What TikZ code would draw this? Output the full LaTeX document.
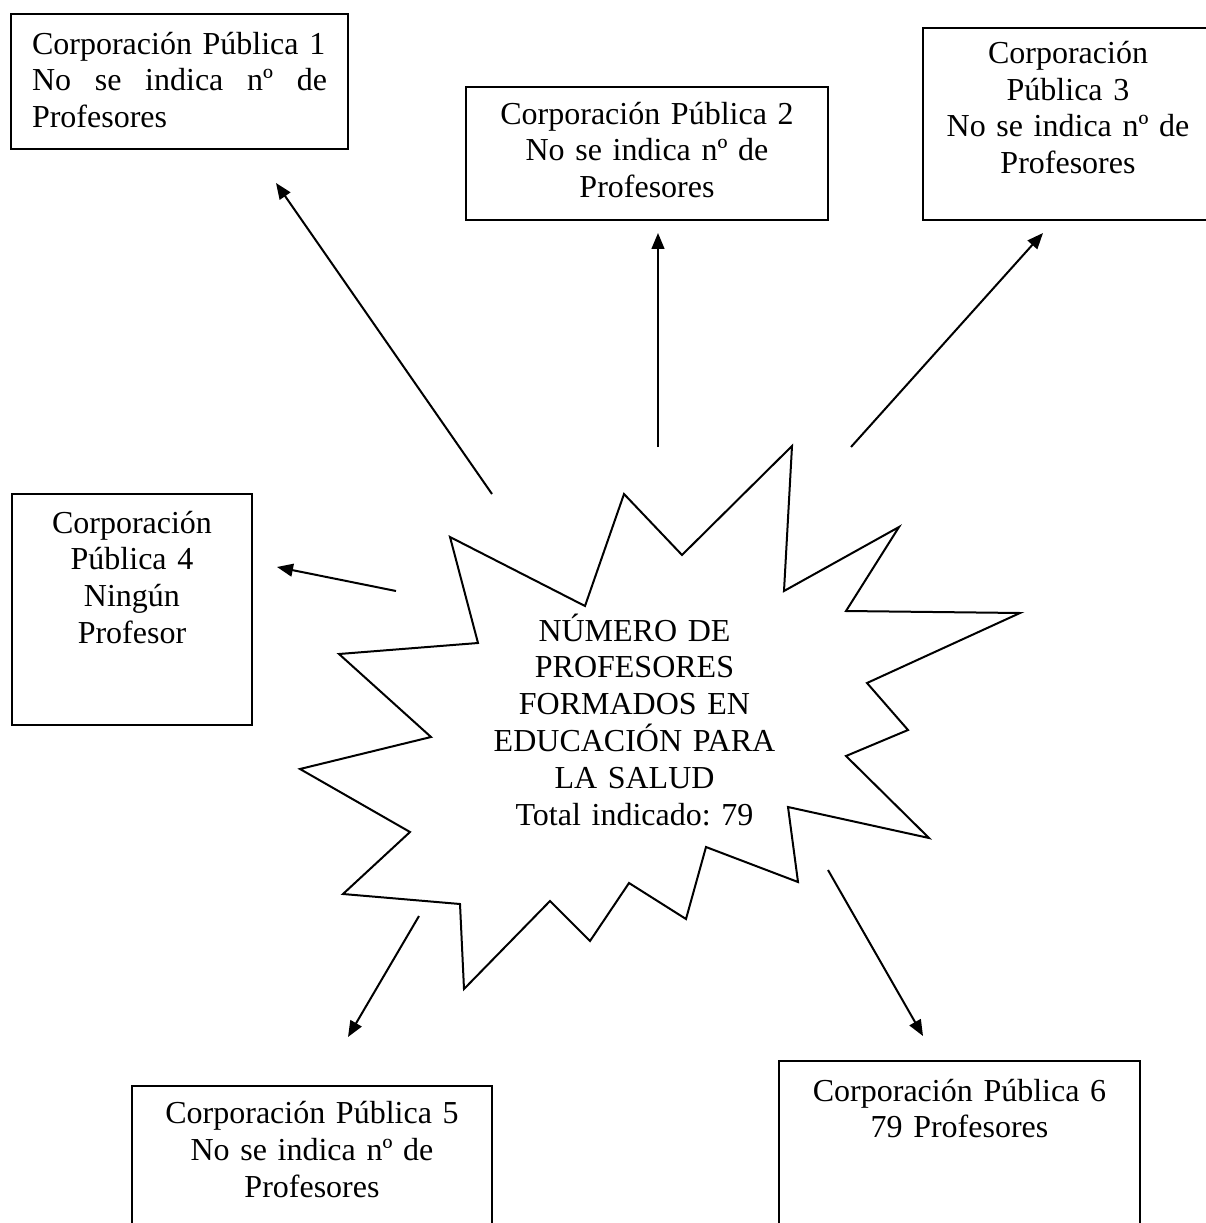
\documentclass[tikz,border=0pt]{standalone}
\usepackage{fontspec}
\setmainfont{Liberation Serif}
\usetikzlibrary{arrows.meta,fit}
\frenchspacing

\tikzset{
  corpframe/.style={draw,line width=0.75pt,inner sep=0pt},
  corptext/.style={anchor=base,align=center,text width=#1,inner sep=0pt},
  corptext/.default=125pt,
  flecha/.style={line width=0.75pt,-{Triangle[length=6pt,width=4.8pt]}},
}

\begin{document}
\begin{tikzpicture}[x=0.375pt,y=-0.375pt,font=\fontsize{12pt}{13.8pt}\selectfont]
  \useasboundingbox (0,0) rectangle (1205,1223);

  % starburst in the middle
  \draw[line width=0.75pt]
    (450,537) -- (585,606) -- (624,494) -- (682,555) -- (792,446) -- (784,591)
    -- (899,527) -- (846,611) -- (1020,613) -- (867,683) -- (908,730) -- (846,756)
    -- (929,838) -- (788,807) -- (798,882) -- (706,847) -- (686,919) -- (629,883)
    -- (590,941) -- (550,901) -- (464,989) -- (460,904) -- (343,894) -- (410,832)
    -- (300,769) -- (431,737) -- (339,654) -- (478,643) -- cycle;
  \node[corptext=112pt] (total) at (634.5,641) {NÚMERO DE\\PROFESORES\\FORMADOS EN\\EDUCACIÓN PARA\\LA SALUD\\Total indicado: 79};

  % frames
  \node[corpframe,fit={(11,14) (348,149)}] (cp1) {};
  \node[corpframe,fit={(466,87) (828,220)}] (cp2) {};
  \node[corpframe,fit={(923,28) (1213,220)}] (cp3) {};
  \node[corpframe,fit={(12,494) (252,725)}] (cp4) {};
  \node[corpframe,fit={(132,1086) (492,1245)}] (cp5) {};
  \node[corpframe,fit={(779,1061) (1140,1245)}] (cp6) {};

  % texts in the frames
  \node[corptext=110.6pt,align=left] (cp1txt) at ([yshift=-15.4pt]cp1.north)
    {Corporación Pública 1\\No\hfill se\hfill indica\hfill nº\hfill de\\Profesores};
  \node[corptext] (cp2txt) at ([yshift=-14.3pt]cp2.north) {Corporación Pública 2\\No se indica nº de\\Profesores};
  \node[corptext] (cp3txt) at ([yshift=-13.6pt]cp3.north) {Corporación\\Pública 3\\No se indica nº de\\Profesores};
  \node[corptext] (cp4txt) at ([yshift=-15pt]cp4.north) {Corporación\\Pública 4\\Ningún\\Profesor};
  \node[corptext] (cp5txt) at ([yshift=-14.6pt]cp5.north) {Corporación Pública 5\\No se indica nº de\\Profesores};
  \node[corptext] (cp6txt) at ([yshift=-15.4pt]cp6.north) {Corporación Pública 6\\79 Profesores};

  % arrow ends
  \coordinate (from1) at (492,494);  \coordinate (to1) at (276,183);
  \coordinate (from2) at (658,447);  \coordinate (to2) at (658,233);
  \coordinate (from3) at (851,447);  \coordinate (to3) at (1043,233);
  \coordinate (from4) at (396,591);  \coordinate (to4) at (277,567);
  \coordinate (from5) at (419,916);  \coordinate (to5) at (348,1037);
  \coordinate (from6) at (828,870);  \coordinate (to6) at (923,1036);

  \draw[flecha] (from1) -- (to1);
  \draw[flecha] (from2) -- (to2);
  \draw[flecha] (from3) -- (to3);
  \draw[flecha] (from4) -- (to4);
  \draw[flecha] (from5) -- (to5);
  \draw[flecha] (from6) -- (to6);
\end{tikzpicture}
\end{document}
